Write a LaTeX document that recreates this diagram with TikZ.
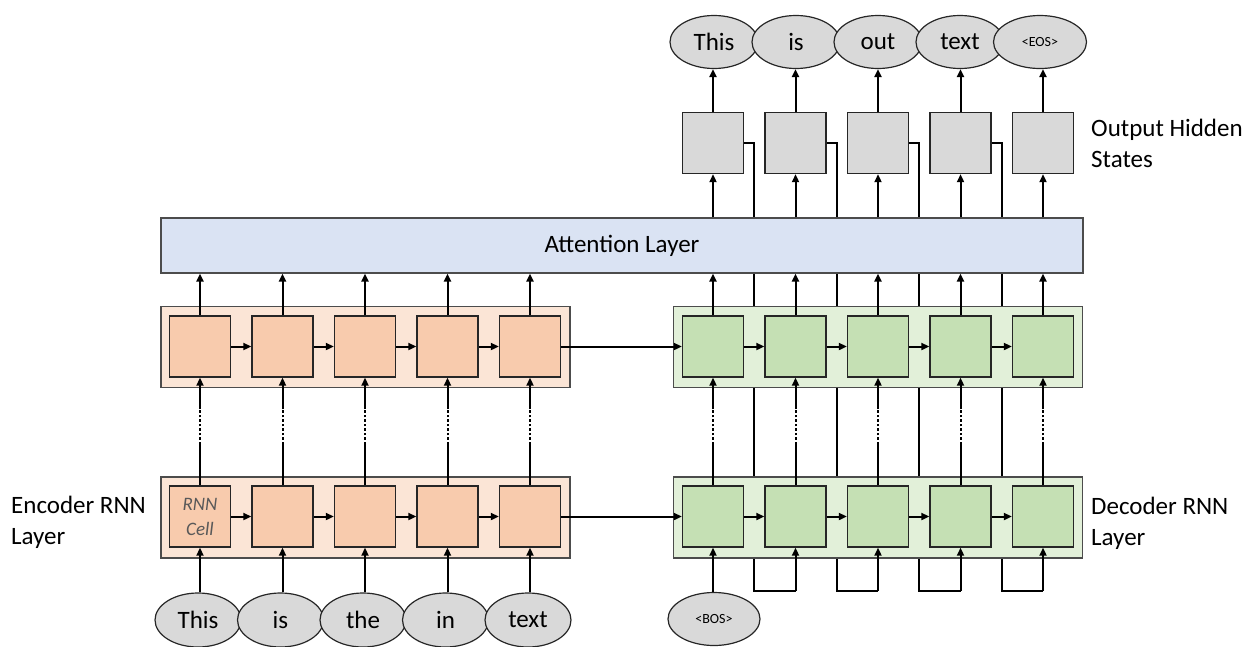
\documentclass[tikz,border=0pt]{standalone}
\usepackage{fontspec}
\setmainfont{Carlito}
\usetikzlibrary{arrows.meta,shapes.geometric,backgrounds}
\definecolor{encfill}{HTML}{FBE5D6}
\definecolor{enccell}{HTML}{F8CBAD}
\definecolor{decfill}{HTML}{E2F0D9}
\definecolor{deccell}{HTML}{C5E0B4}
\definecolor{attfill}{HTML}{DAE3F3}
\definecolor{tokfill}{HTML}{D9D9D9}

\begin{document}
\begin{tikzpicture}[x=1pt,y=1pt]
	\tikzstyle{every node}+=[inner sep=0pt, font=\fontsize{25}{31}\selectfont]
	\tikzstyle{layerbox}=[draw=black!70, line width=1.2pt, minimum width=409pt, minimum height=81pt]
	\tikzstyle{cell}=[draw=black!85, line width=1.4pt, minimum size=61pt]
	\tikzstyle{token}=[ellipse, draw=black!85, fill=tokfill, line width=1.2pt, minimum width=86pt, minimum height=54pt]
	\tikzstyle{wire}=[line width=2pt]
	\tikzstyle{link}=[line width=2pt, -{Triangle[length=8pt,width=7pt]}]
	\useasboundingbox (0,0) rectangle (1247,-646);
	% layer frames
	\node [layerbox, fill=encfill] (encL) at (365.5,-517.5) {};
	\node [layerbox, fill=encfill] (encU) at (365.5,-347) {};
	\node [layerbox, fill=decfill] (decL) at (878,-517.5) {};
	\node [layerbox, fill=decfill] (decU) at (878,-347) {};
	\node [draw=black!70, line width=1.2pt, fill=attfill, minimum width=922pt, minimum height=55pt] (att) at (622,-245.5) {Attention Layer};
	% cells
	\foreach \i in {1,...,5} {
		\node [cell, fill=enccell] (el\i) at ({200+82.5*(\i-1)},-516.5) {};
		\node [cell, fill=enccell] (eu\i) at ({200+82.5*(\i-1)},-346.5) {};
		\node [cell, fill=deccell] (dl\i) at ({713+82.5*(\i-1)},-516.5) {};
		\node [cell, fill=deccell] (du\i) at ({713+82.5*(\i-1)},-346.5) {};
		\node [cell, fill=tokfill] (hid\i) at ({713+82.5*(\i-1)},-143) {};
	}
	\node [align=center, text=black!65, font=\fontsize{19}{25}\selectfont\itshape] (rnntext) at (el1) {RNN\\Cell};
	% tokens
	\foreach \w [count=\i] in {This,is,the,in,text}
		\node [token] (in\i) at ({198+82.5*(\i-1)},-620) {\w};
	\foreach \w [count=\i] in {This,is,out,text}
		\node [token, minimum width=88pt, minimum height=53pt] (out\i) at ({714+82*(\i-1)},-42) {\w};
	\node [token, minimum width=93pt, minimum height=53pt, font=\fontsize{14}{16}\selectfont] (out5) at (1040,-42) {<EOS>};
	\node [token, minimum width=92pt, minimum height=53pt, font=\fontsize{14}{16}\selectfont] (bos) at (714,-619) {<BOS>};
	% vertical links
	\foreach \i in {1,...,5} {
		\draw [link] (in\i.north -| el\i.south) -- (el\i.south);
		\draw [wire] (el\i.north) -- ++(0,41) coordinate (ed\i);
		\draw [wire, dash pattern=on 2.5pt off 2pt] (ed\i) -- ++(0,35) coordinate (eg\i);
		\draw [link] (eg\i) -- (eu\i.south);
		\draw [wire] (dl\i.north) -- ++(0,41) coordinate (dd\i);
		\draw [wire, dash pattern=on 2.5pt off 2pt] (dd\i) -- ++(0,35) coordinate (dg\i);
		\draw [link] (dg\i) -- (du\i.south);
		\draw [link] (eu\i.north) -- (eu\i.north |- att.south);
		\draw [link] (du\i.north) -- (du\i.north |- att.south);
		\draw [link] (att.north -| hid\i.south) -- (hid\i.south);
		\draw [link] (hid\i.north) -- (hid\i.north |- out\i.south);
	}
	% recurrent links and feedback
	\foreach \i/\j in {1/2,2/3,3/4,4/5} {
		\draw [link] (el\i.east) -- (el\j.west);
		\draw [link] (eu\i.east) -- (eu\j.west);
		\draw [link] (dl\i.east) -- (dl\j.west);
		\draw [link] (du\i.east) -- (du\j.west);
		\coordinate (fb\i) at (dl\j.south |- 0,-591);
		\begin{scope}[on background layer]
			\draw [wire] (hid\i.east) -- ++(10,0) |- (fb\i);
		\end{scope}
		\draw [link] (fb\i) -- (dl\j.south);
	}
	\draw [link] (el5.east) -- (dl1.west);
	\draw [link] (eu5.east) -- (du1.west);
	\draw [link] (bos.north -| dl1.south) -- (dl1.south);
	% labels
	\node [anchor=west, align=left] (enclabel) at (11,-522) {Encoder RNN\\Layer};
	\node [anchor=west, align=left] (declabel) at (1091,-523) {Decoder RNN\\Layer};
	\node [anchor=west, align=left] (hidlabel) at (1091,-143) {Output Hidden\\States};
\end{tikzpicture}
\end{document}
